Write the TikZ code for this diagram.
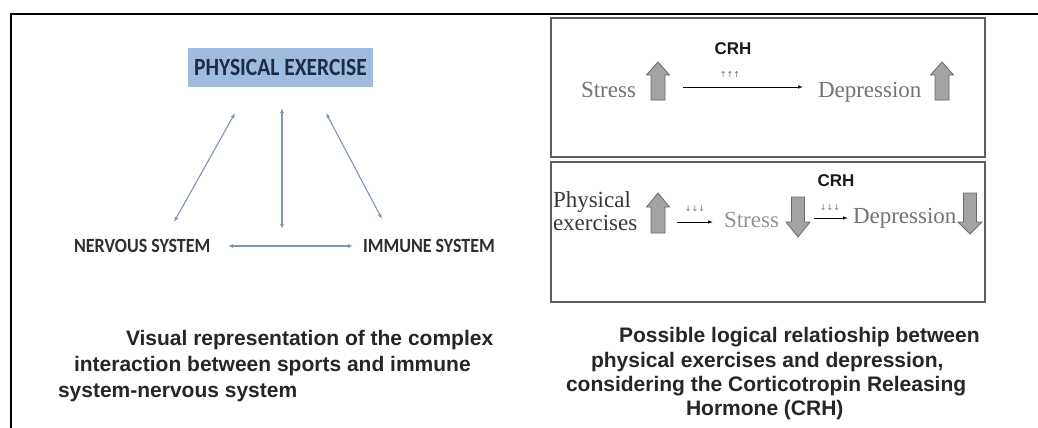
\documentclass[tikz,border=0pt]{standalone}
\usepackage{fontspec}
\setmainfont{Liberation Serif}
\newfontfamily\arialf{Liberation Sans}
\newfontfamily\calibf{Carlito}
\newfontfamily\symf{DejaVu Sans}
\usetikzlibrary{arrows.meta}
\definecolor{boxblue}{HTML}{9FBBE0}
\definecolor{navy}{HTML}{1E2B45}
\definecolor{connc}{HTML}{8095B0}
\definecolor{blkfill}{HTML}{A3A3A3}
\definecolor{blkline}{HTML}{6A6A6A}
\definecolor{panelc}{HTML}{5E5E5E}
% up block arrow: x, tip y, head-base y, bottom y
\newcommand\blkup[4]{\filldraw[blockarrow] (#1-7,#4) -- (#1-7,#3) -- (#1-11.5,#3) -- (#1,#2) -- (#1+11.5,#3) -- (#1+7,#3) -- (#1+7,#4) -- cycle;}
% down block arrow: x, top y, head-start y, tip y
\newcommand\blkdown[4]{\filldraw[blockarrow] (#1-6.5,#2) -- (#1-6.5,#3) -- (#1-12,#3) -- (#1,#4) -- (#1+12,#3) -- (#1+6.5,#3) -- (#1+6.5,#2) -- cycle;}
\begin{document}
\begin{tikzpicture}[x=1pt,y=-1pt,
  txt/.style={inner sep=0pt, outer sep=0pt},
  conn/.style={draw=connc, line width=1.1pt, {Latex[length=5pt,width=4pt]}-{Latex[length=5pt,width=4pt]}},
  panel/.style={draw=panelc, line width=1.2pt},
  flow/.style={draw=black, line width=0.8pt, -{Latex[length=5pt,width=3.5pt]}},
  blockarrow/.style={fill=blkfill, draw=blkline, line width=0.8pt},
  sertext/.style={txt, anchor=base west, font=\fontsize{23}{23}\selectfont},
  crh/.style={txt, font=\arialf\bfseries\fontsize{17}{17}\selectfont, text=black!90},
  mini/.style={txt, font=\symf\fontsize{8}{8}\selectfont, text=black!55},
  captext/.style={txt, anchor=base west, font=\arialf\bfseries\fontsize{21}{21}\selectfont, text=black!85},
  sysnode/.style={txt, anchor=west, text=black!82, font=\calibf\bfseries\fontsize{18}{18}\selectfont},
]
\useasboundingbox (0,0) rectangle (1038,428);
\fill[white] (0,0) rectangle (1038,428);

% frame lines
\coordinate (tl) at (10,14);
\coordinate (tm) at (995,14);
\coordinate (tr) at (1038,14.5);
\coordinate (bl) at (11,428);
\draw[line width=1.3pt] (tl) -- (tm);
\draw[line width=2pt] (tm |- tr) -- (tr);
\draw[line width=1.4pt] (11,14) -- (bl);

% ---------- left diagram ----------
\node[txt, fill=boxblue, minimum width=185pt, minimum height=39pt, text=navy] (pe) at (280.5,67.5)
  {\scalebox{1}[1.15]{\calibf\bfseries\fontsize{21.5}{21.5}\selectfont PHYSICAL EXERCISE}};
\node[sysnode] (ns) at (74,246) {\scalebox{1}[1.12]{NERVOUS SYSTEM}};
\node[sysnode] (is) at (363,246) {\scalebox{1}[1.12]{IMMUNE SYSTEM}};

\coordinate (l1) at (235,113); \coordinate (l2) at (174,222);
\coordinate (m1) at (282,108); \coordinate (m2) at (282,229);
\coordinate (r1) at (326,113); \coordinate (r2) at (382,219);
\coordinate (h1) at (228,246); \coordinate (h2) at (353,246);
\draw[conn] (l1) -- (l2);
\draw[conn] (m1) -- (m2);
\draw[conn] (r1) -- (r2);
\draw[conn] (h1) -- (h2);

% left caption
\node[captext] (c1) at (126,345) {Visual representation of the complex};
\node[captext] (c2) at (74,371) {interaction between sports and immune};
\node[captext] (c3) at (58,397) {system-nervous system};

% ---------- right top panel ----------
\draw[panel] (551,18) rectangle (985,157);
\node[sertext, text=black!55] (st1) at (581,97) {Stress};
\blkup{658}{62}{75}{100}
\node[crh] (crh1) at (733,49) {CRH};
\node[mini] (u3) at (730,75) {↑↑↑};
\coordinate (f1s) at (683,87); \coordinate (f1e) at (803,87);
\draw[flow] (f1s) -- (f1e);
\node[sertext, text=black!55] (dp1) at (818,97) {Depression};
\blkup{942}{62}{75}{100}

% ---------- right bottom panel ----------
\draw[panel] (551,162) rectangle (985,302);
\node[sertext, text=black!78] (ph) at (553,207) {Physical};
\node[sertext, text=black!78] (ex) at (553,230) {exercises};
\blkup{658}{193}{207}{233}
\node[mini] (d3a) at (695,209) {↓↓↓};
\coordinate (f2s) at (677,222); \coordinate (f2e) at (713,222);
\draw[flow] (f2s) -- (f2e);
\node[sertext, text=black!42] (st2) at (724,227) {Stress};
\blkdown{798}{197}{222}{237}
\node[crh] (crh2) at (836,181) {CRH};
\node[mini] (d3b) at (830,208) {↓↓↓};
\coordinate (f3s) at (814,218); \coordinate (f3e) at (848,218);
\draw[flow] (f3s) -- (f3e);
\node[sertext, text=black!55] (dp2) at (853,223) {Depression};
\blkdown{970}{193}{222}{234}

% right caption
\node[captext] (k1) at (619,342) {Possible logical relatioship between};
\node[captext] (k2) at (591,367) {physical exercises and depression,};
\node[captext] (k3) at (566,391) {considering the Corticotropin Releasing};
\node[captext] (k4) at (686,415) {Hormone (CRH)};
\end{tikzpicture}
\end{document}
